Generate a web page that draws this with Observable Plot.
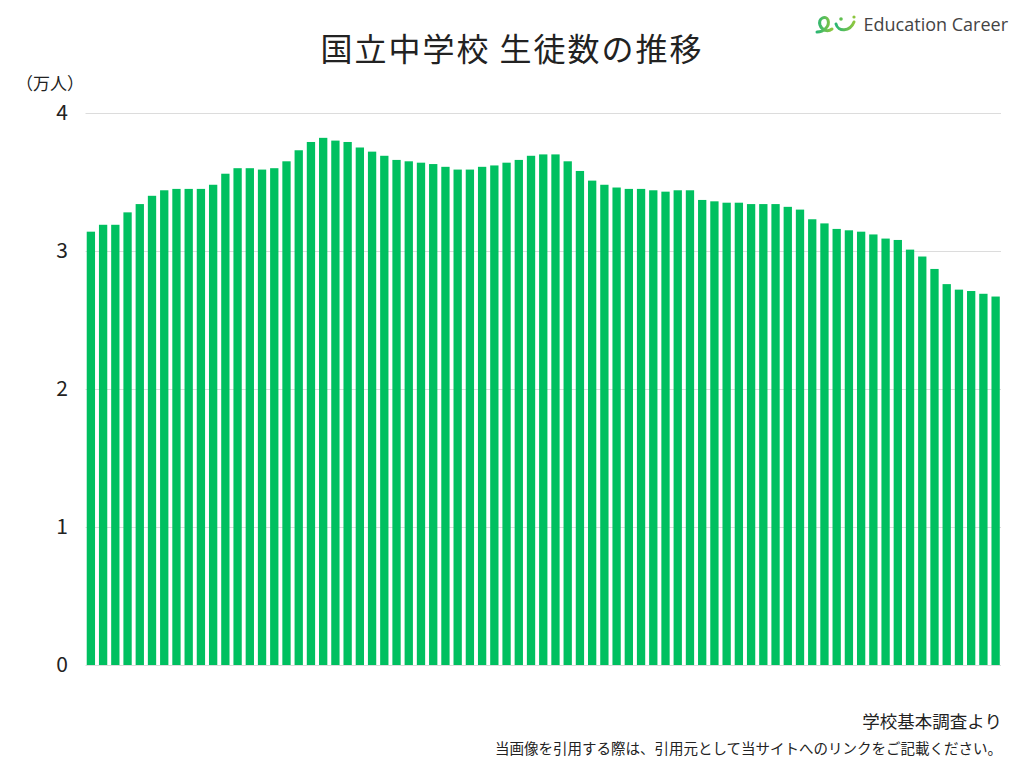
<!DOCTYPE html>
<html>
<head>
<meta charset="utf-8">
<script src="https://cdn.jsdelivr.net/npm/d3@7"></script>
<script src="https://cdn.jsdelivr.net/npm/@observablehq/plot@0.6"></script>
<style>
  html, body { margin: 0; padding: 0; background: #fff; }
  body { width: 1024px; height: 768px; position: relative; overflow: hidden;
         font-family: "Noto Sans CJK JP", "Noto Sans", sans-serif; color: #222; }
  #chart { position: absolute; left: 0; top: 0; }
  .abs { position: absolute; white-space: nowrap; }
  #title { left: 0; width: 1024px; top: 24px; text-align: center; font-size: 32px; color: #222; letter-spacing: 2px; font-weight: 400; }
  #unit { left: 16px; top: 70px; font-size: 17px; color: #222; }
  #logo { right: 16px; top: 12px; display: flex; align-items: center; gap: 6px; }
  #logo span { font-family: "Open Sans", "DejaVu Sans", sans-serif; font-size: 18px; color: #444; }
  #source { right: 22px; top: 708px; font-size: 17.5px; color: #222; }
  #note { right: 22px; top: 737px; font-size: 14.5px; color: #222; }
</style>
</head>
<body>
<div id="chart"></div>
<div id="title" class="abs">国立中学校 生徒数の推移</div>
<div id="unit" class="abs">（万人）</div>
<div id="logo" class="abs">
  <svg width="44" height="24" viewBox="0 0 44 24">
    <defs>
      <linearGradient id="lg" x1="0" x2="1" y1="0" y2="0">
        <stop offset="0" stop-color="#2bb673"/>
        <stop offset="1" stop-color="#8dc63f"/>
      </linearGradient>
    </defs>
    <path d="M3 20 C 10 20, 16 14, 14 8 C 12 3, 4 6, 6 13 C 8 19, 14 20, 18 17" fill="none" stroke="url(#lg)" stroke-width="3" stroke-linecap="round"/>
    <circle cx="27" cy="7" r="1.8" fill="#5fbf50"/>
    <path d="M22 12 C 24 20, 36 20, 40 10" fill="none" stroke="url(#lg)" stroke-width="3" stroke-linecap="round"/>
    <circle cx="40" cy="5" r="1.6" fill="#8dc63f"/>
  </svg>
  <span>Education Career</span>
</div>
<div id="source" class="abs">学校基本調査より</div>
<div id="note" class="abs">当画像を引用する際は、引用元として当サイトへのリンクをご記載ください。</div>
<script>
// 年度 (1948–2022)
const years = d3.range(1948, 2023);
// 生徒数（万人）
const students = [
  3.14, 3.19, 3.19, 3.28, 3.34, 3.40, 3.44, 3.45, 3.45, 3.45,
  3.48, 3.56, 3.60, 3.60, 3.59, 3.60, 3.65, 3.73, 3.79, 3.82,
  3.80, 3.79, 3.75, 3.72, 3.69, 3.66, 3.65, 3.64, 3.63, 3.61,
  3.59, 3.59, 3.61, 3.62, 3.64, 3.66, 3.69, 3.70, 3.70, 3.65,
  3.58, 3.51, 3.48, 3.46, 3.45, 3.45, 3.44, 3.43, 3.44, 3.44,
  3.37, 3.36, 3.35, 3.35, 3.34, 3.34, 3.34, 3.32, 3.30, 3.23,
  3.20, 3.16, 3.15, 3.14, 3.12, 3.09, 3.08, 3.01, 2.96, 2.87,
  2.76, 2.72, 2.71, 2.69, 2.67
];
const yTicks = [0, 1, 2, 3, 4];

const data = years.map((y, i) => ({year: String(y), value: students[i]}));

const chart = Plot.plot({
  width: 1024,
  height: 700,
  marginTop: 113,
  marginBottom: 35,
  marginLeft: 85.5,
  marginRight: 23,
  style: {fontFamily: "'Noto Sans CJK JP', 'Noto Sans', sans-serif", background: "transparent"},
  x: {domain: years.map(String), paddingInner: 0.32, paddingOuter: 0.1, round: false, axis: null},
  y: {domain: [0, 4], ticks: yTicks},
  marks: [
    Plot.ruleY(yTicks, {stroke: "#dcdcdc", strokeWidth: 1}),
    Plot.barY(data, {x: "year", y: "value", fill: "#00c060"}),
    Plot.axisY(yTicks, {tickSize: 0, tickPadding: 18, fontSize: 21, fill: "#222", label: null, tickFormat: d => String(d)})
  ]
});
document.getElementById("chart").appendChild(chart);
</script>
</body>
</html>
